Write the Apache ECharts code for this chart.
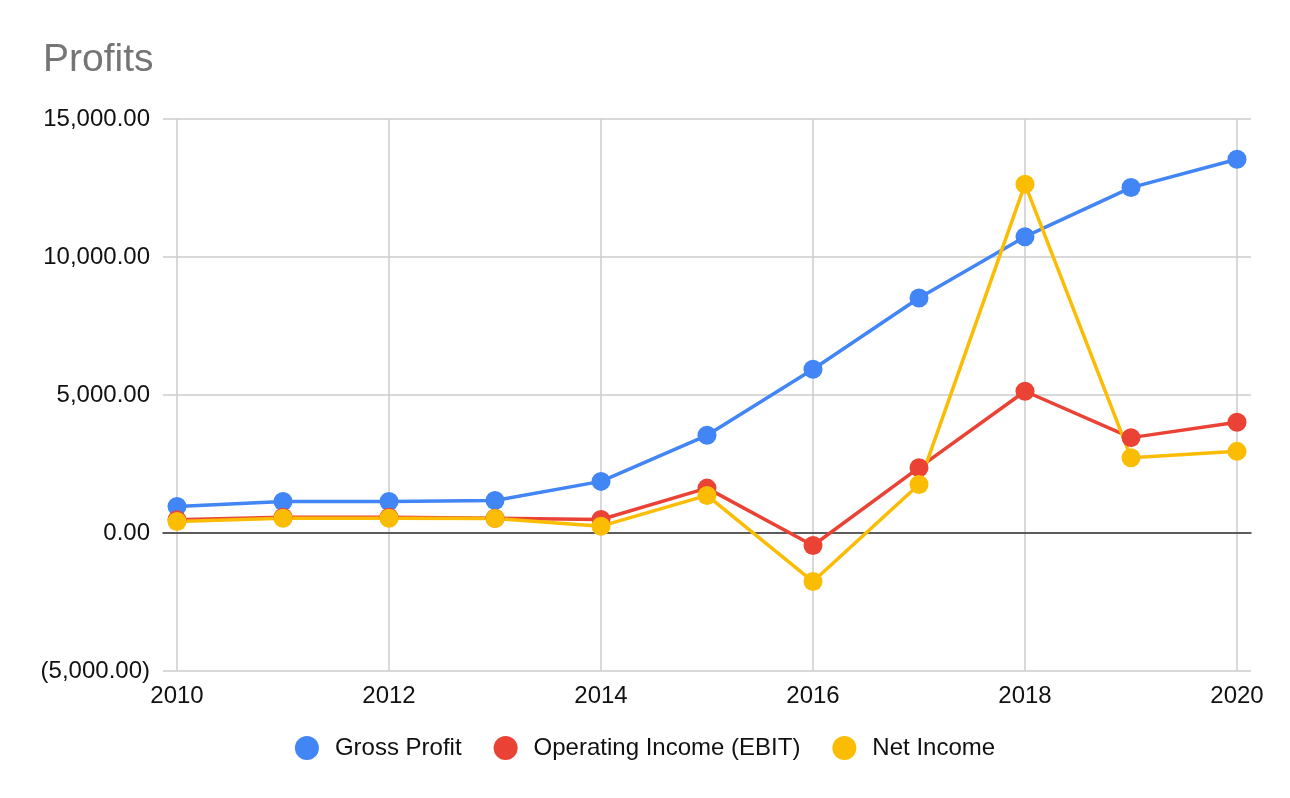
<!DOCTYPE html>
<html>
<head>
<meta charset="utf-8">
<script src="https://cdn.jsdelivr.net/npm/echarts@6/dist/echarts.min.js"></script>
<style>
  html, body { margin: 0; padding: 0; background: #fff; }
  #chart { width: 1290px; height: 798px; }
</style>
</head>
<body>
<div id="chart"></div>
<script>
var years = [2010, 2011, 2012, 2013, 2014, 2015, 2016, 2017, 2018, 2019, 2020];
var grossProfit = [962, 1143, 1143, 1180, 1870, 3539, 5935, 8512, 10737, 12515, 13543];
var operatingIncome = [479, 574, 574, 537, 490, 1626, -454, 2367, 5136, 3455, 4011];
var netIncome = [417, 537, 537, 526, 247, 1361, -1760, 1760, 12639, 2729, 2958];

function pairs(vals) {
    return years.map(function (y, i) { return [y, vals[i]]; });
}

function money(v) {
    var s = Math.abs(v).toLocaleString('en-US', {minimumFractionDigits: 2, maximumFractionDigits: 2});
    return v < 0 ? '(' + s + ')' : s;
}

var font = '"Liberation Sans", Arial, sans-serif';
var chart = echarts.init(document.getElementById('chart'));

var option = {
    backgroundColor: '#fff',
    animation: false,
    title: {
        text: 'Profits',
        left: 38,
        top: 36,
        textStyle: { fontFamily: font, fontSize: 39, fontWeight: 'normal', color: '#757575' }
    },
    legend: {
        left: 'center',
        top: 731,
        icon: 'circle',
        itemWidth: 24,
        itemHeight: 24,
        itemGap: 32,
        textStyle: { fontFamily: font, fontSize: 24, color: '#111', padding: [0, 0, 0, 11] },
        data: ['Gross Profit', 'Operating Income (EBIT)', 'Net Income']
    },
    grid: [
        { left: 163, right: 39, top: 119, bottom: 127 },
        { left: 177, right: 53, top: 119, bottom: 127 }
    ],
    xAxis: [
        {
            gridIndex: 0,
            type: 'value',
            min: 0,
            max: 1,
            axisLine: { show: true, onZero: true, lineStyle: { color: '#333', width: 1.5 } },
            axisTick: { show: false },
            axisLabel: { show: false },
            splitLine: { show: false }
        },
        {
            gridIndex: 1,
            type: 'value',
            min: 2010,
            max: 2020,
            interval: 2,
            axisLine: { show: false },
            axisTick: { show: false },
            axisLabel: {
                margin: 13,
                fontFamily: font,
                fontSize: 24,
                color: '#111',
                formatter: function (v) { return String(v); }
            },
            splitLine: { show: true, lineStyle: { color: '#ccc', width: 1.5 } }
        }
    ],
    yAxis: [
        {
            gridIndex: 0,
            type: 'value',
            min: -5000,
            max: 15000,
            interval: 5000,
            axisLine: { show: false },
            axisTick: { show: false },
            axisLabel: {
                margin: 13,
                fontFamily: font,
                fontSize: 24,
                color: '#111',
                formatter: money
            },
            splitLine: { show: true, lineStyle: { color: '#ccc', width: 1.5 } }
        },
        {
            gridIndex: 1,
            type: 'value',
            min: -5000,
            max: 15000,
            interval: 5000,
            show: false
        }
    ],
    series: [
        {
            name: 'Gross Profit',
            type: 'line',
            xAxisIndex: 1,
            yAxisIndex: 1,
            symbol: 'circle',
            symbolSize: 19,
            itemStyle: { color: '#4285F4' },
            lineStyle: { color: '#4285F4', width: 3.5 },
            data: pairs(grossProfit)
        },
        {
            name: 'Operating Income (EBIT)',
            type: 'line',
            xAxisIndex: 1,
            yAxisIndex: 1,
            symbol: 'circle',
            symbolSize: 19,
            itemStyle: { color: '#EA4335' },
            lineStyle: { color: '#EA4335', width: 3.5 },
            data: pairs(operatingIncome)
        },
        {
            name: 'Net Income',
            type: 'line',
            xAxisIndex: 1,
            yAxisIndex: 1,
            symbol: 'circle',
            symbolSize: 19,
            itemStyle: { color: '#FBBC04' },
            lineStyle: { color: '#FBBC04', width: 3.5 },
            data: pairs(netIncome)
        }
    ]
};

chart.setOption(option);
window.onresize = chart.resize;
</script>
</body>
</html>
